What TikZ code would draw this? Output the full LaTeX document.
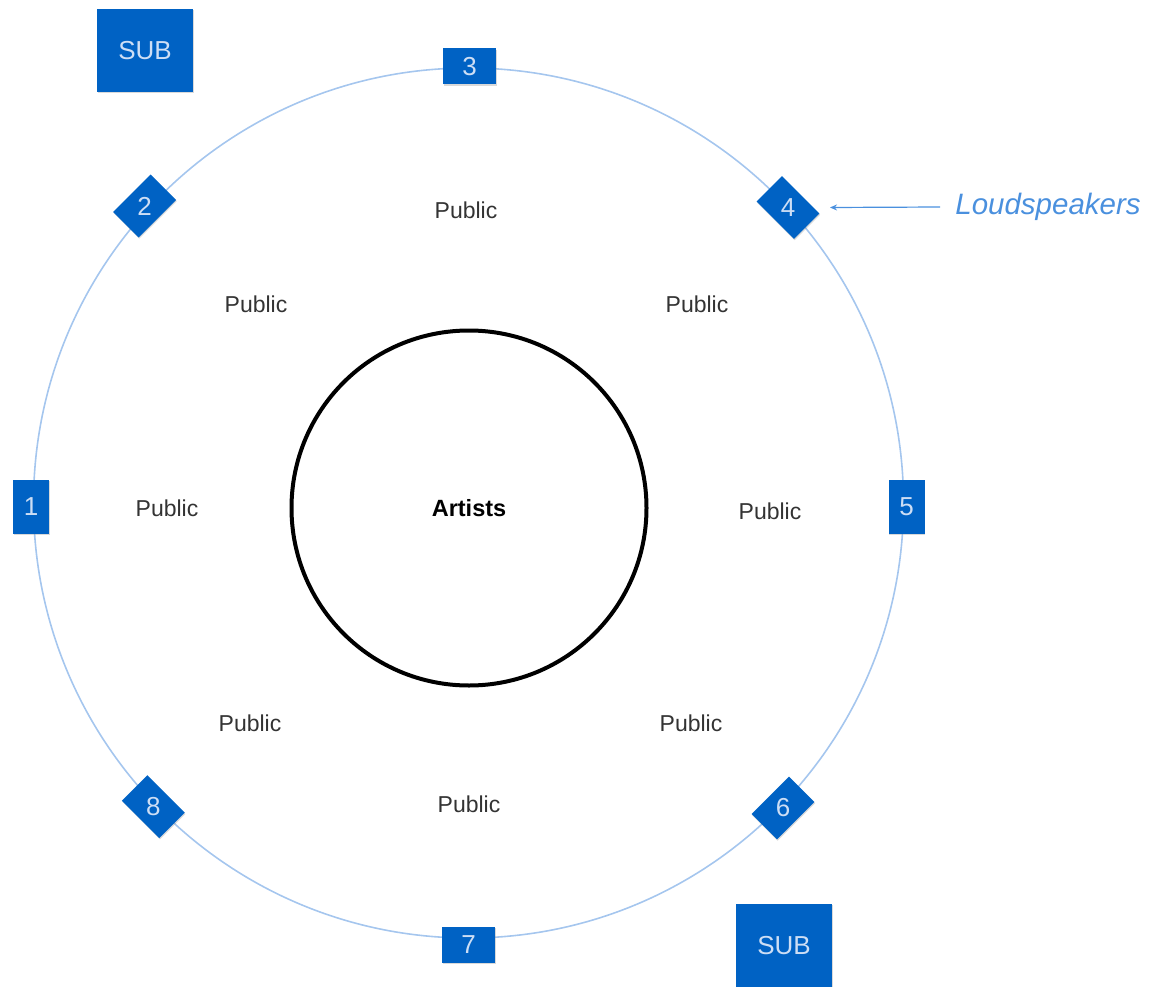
\documentclass[tikz,border=0pt]{standalone}
\usepackage{fontspec}
\setmainfont{Liberation Sans}
\usetikzlibrary{shadows,arrows.meta}
\definecolor{spk}{RGB}{0,98,196}
\definecolor{ring}{RGB}{165,198,238}
\definecolor{lbl}{RGB}{74,144,222}
\definecolor{numtxt}{RGB}{205,222,245}
\definecolor{pub}{RGB}{51,51,51}
\begin{document}
\begin{tikzpicture}[x=1pt,y=-1pt,
  spkbox/.style={fill=spk, draw=none, inner sep=0pt, minimum width=53pt, minimum height=36pt,
    drop shadow={shadow xshift=0.6pt, shadow yshift=-1.2pt, opacity=0.3}},
  spkvert/.style={spkbox, minimum width=36pt, minimum height=54pt},
  subbox/.style={spkbox, minimum width=96pt, minimum height=83pt},
  num/.style={text=numtxt, font=\fontsize{26}{26}\selectfont},
  pubtxt/.style={text=pub, font=\fontsize{23}{23}\selectfont},
]
\useasboundingbox (0,0) rectangle (1156,987);

% outer ring and stage
\node[circle, draw=ring, line width=1.6pt, minimum size=870pt, inner sep=0pt] (ring) at (468.5,503) {};
\node[circle, draw=black, line width=4pt, minimum size=355pt, inner sep=0pt,
      font=\bfseries\fontsize{23.5}{23.5}\selectfont] (artists) at (469,508) {Artists};

% loudspeakers
\node[spkbox] (s3) at (469.5,66.5) {};
\node[num] at (s3) {3};
\node[spkbox] (s7) at (468.5,945) {};
\node[num] at (s7) {7};
\node[spkvert] (s1) at (31,506.5) {};
\node[num] at (s1) {1};
\node[spkvert] (s5) at (906.5,506.5) {};
\node[num] at (s5) {5};
\node[spkbox, rotate=45] (s2) at (144.7,206) {};
\node[num] at (s2) {2};
\node[spkbox, rotate=-45] (s4) at (788,207.5) {};
\node[num] at (s4) {4};
\node[spkbox, rotate=-45] (s8) at (153.3,806.7) {};
\node[num] at (s8) {8};
\node[spkbox, rotate=45] (s6) at (783,808) {};
\node[num] at (s6) {6};

% subwoofers
\node[subbox, num] (sub1) at (145,50.5) {SUB};
\node[subbox, num] (sub2) at (784,945.5) {SUB};

% public
\node[pubtxt] (p1) at (466,210) {Public};
\node[pubtxt] (p2) at (256,304) {Public};
\node[pubtxt] (p3) at (697,304) {Public};
\node[pubtxt] (p4) at (167,508) {Public};
\node[pubtxt] (p5) at (770,511) {Public};
\node[pubtxt] (p6) at (250,723) {Public};
\node[pubtxt] (p7) at (691,723) {Public};
\node[pubtxt] (p8) at (469,804) {Public};

% label and arrow
\node[text=lbl, inner sep=0pt, font=\itshape\fontsize{29.5}{29.5}\selectfont] (ls) at (1048,207) {Loudspeakers};
\draw[lbl, line width=1.2pt, -{Stealth[length=7pt,width=6pt]}]
  ([xshift=-15pt]ls.west) -- ([xshift=42pt]s4.center);
\end{tikzpicture}
\end{document}
